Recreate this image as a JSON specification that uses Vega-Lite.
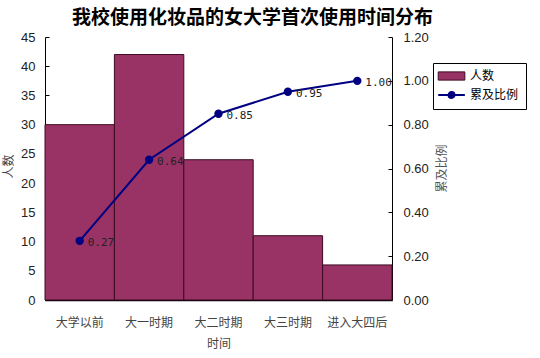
{
  "$schema": "https://vega.github.io/schema/vega-lite/v6.json",
  "width": 347,
  "height": 263,
  "autosize": {"type": "none"},
  "padding": {"left": 45, "top": 37, "right": 148, "bottom": 58},
  "background": "white",
  "config": {"view": {"stroke": null}},
  "title": {
    "text": "我校使用化妆品的女大学首次使用时间分布",
    "font": "Noto Sans CJK SC",
    "fontSize": 19,
    "fontWeight": "bold",
    "color": "#000000",
    "anchor": "middle",
    "frame": "group",
    "dx": 34,
    "offset": 3
  },
  "data": {
    "values": [
      {"period": "大学以前", "count": 30, "cum": 0.27},
      {"period": "大一时期", "count": 42, "cum": 0.64},
      {"period": "大二时期", "count": 24, "cum": 0.85},
      {"period": "大三时期", "count": 11, "cum": 0.95},
      {"period": "进入大四后", "count": 6, "cum": 1.0}
    ]
  },
  "encoding": {
    "x": {
      "field": "period",
      "type": "nominal",
      "sort": null,
      "scale": {"paddingInner": 0, "paddingOuter": 0},
      "axis": {
        "title": "时间",
        "titleFont": "Noto Sans CJK SC",
        "titleFontSize": 12,
        "titleFontWeight": "normal",
        "titleColor": "#444444",
        "titlePadding": 10,
        "labelFont": "Noto Sans CJK SC",
        "labelFontSize": 12,
        "labelColor": "#444444",
        "labelAngle": 0,
        "labelPadding": 17,
        "ticks": false,
        "domainColor": "#000000",
        "domainWidth": 1.5
      }
    }
  },
  "layer": [
    {
      "mark": {"type": "bar", "stroke": "#3d0b22", "strokeWidth": 1, "opacity": 1},
      "encoding": {
        "y": {
          "field": "count",
          "type": "quantitative",
          "scale": {"domain": [0, 45], "nice": false},
          "axis": {
            "values": [0, 5, 10, 15, 20, 25, 30, 35, 40, 45],
            "grid": false,
            "tickSize": -4,
            "tickColor": "#000000",
            "domainColor": "#000000",
            "labelPadding": 14,
            "labelFont": "Liberation Sans",
            "labelFontSize": 13,
            "labelColor": "#222222",
            "title": "人数",
            "titleFont": "Noto Sans CJK SC",
            "titleFontSize": 12,
            "titleFontWeight": "normal",
            "titleColor": "#444444",
            "titleX": -37,
            "titleY": 129,
            "titleBaseline": "middle",
            "titleAngle": -90
          }
        },
        "color": {
          "datum": "人数",
          "type": "nominal",
          "scale": {"domain": ["人数", "累及比例"], "range": ["#993366", "#000080"]},
          "legend": {
            "orient": "none",
            "legendX": 388,
            "legendY": 26,
            "title": null,
            "strokeColor": "#000000",
            "padding": 7,
            "rowPadding": 5,
            "labelFont": "Noto Sans CJK SC",
            "labelFontSize": 12,
            "labelColor": "#000000",
            "labelOffset": 18,
            "symbolSize": 420,
            "symbolType": {"expr": "datum.value === '人数' ? 'M-0.76,-0.4H1.84V0.4H-0.76Z' : 'M-0.76,0H1.84M0.84,0A0.3,0.3 0 1,1 0.24,0A0.3,0.3 0 1,1 0.84,0'"},
            "symbolFillColor": {"expr": "datum.value === '人数' ? '#993366' : '#000080'"},
            "symbolStrokeColor": {"expr": "datum.value === '人数' ? '#3d0b22' : '#000080'"},
            "symbolStrokeWidth": {"expr": "datum.value === '人数' ? 1 : 1.8"},
            "symbolOpacity": 1
          }
        }
      }
    },
    {
      "encoding": {
        "y": {
          "field": "cum",
          "type": "quantitative",
          "scale": {"domain": [0, 1.2], "nice": false},
          "axis": {
            "orient": "right",
            "values": [0, 0.2, 0.4, 0.6, 0.8, 1.0, 1.2],
            "format": ".2f",
            "grid": false,
            "tickSize": -4,
            "tickColor": "#000000",
            "domainColor": "#000000",
            "labelPadding": 15,
            "labelFont": "Liberation Sans",
            "labelFontSize": 13,
            "labelColor": "#222222",
            "title": "累及比例",
            "titleFont": "Noto Sans CJK SC",
            "titleFontSize": 12,
            "titleFontWeight": "normal",
            "titleColor": "#555555",
            "titleAngle": 270,
            "titleBaseline": "middle",
            "titleX": 49,
            "titleY": 131
          }
        }
      },
      "layer": [
        {
          "mark": {"type": "line", "strokeWidth": 2, "color": "#000080"},
          "encoding": {}
        },
        {
          "mark": {"type": "point", "filled": true, "size": 70, "opacity": 1, "color": "#000080"},
          "encoding": {}
        },
        {
          "mark": {"type": "text", "align": "left", "dx": 8, "dy": 2, "font": "DejaVu Sans Mono", "fontSize": 11, "color": "#222222"},
          "encoding": {"text": {"field": "cum", "type": "quantitative", "format": ".2f"}}
        }
      ]
    }
  ],
  "resolve": {"scale": {"y": "independent"}}
}
